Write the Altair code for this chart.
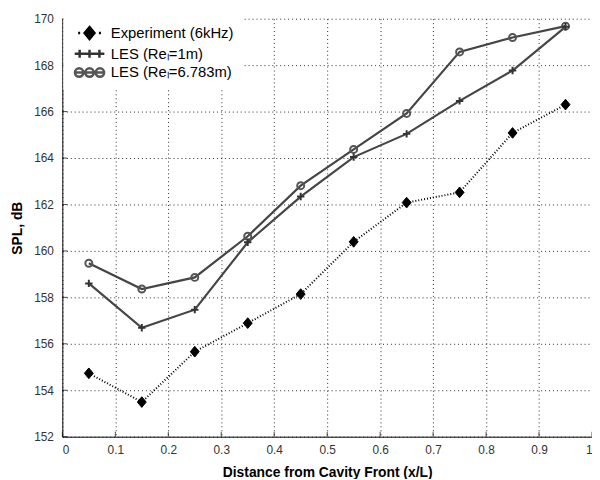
import altair as alt
import pandas as pd

# ---- data ----
x_pos = [0.05, 0.15, 0.25, 0.35, 0.45, 0.55, 0.65, 0.75, 0.85, 0.95]
spl_exp = [154.73, 153.49, 155.66, 156.89, 158.14, 160.39, 162.08, 162.52, 165.08, 166.30]
spl_les1 = [158.60, 156.69, 157.47, 160.37, 162.34, 164.04, 165.04, 166.46, 167.77, 169.65]
spl_les2 = [159.47, 158.36, 158.86, 160.63, 162.81, 164.37, 165.92, 168.57, 169.19, 169.68]
series_names = ["Experiment (6kHz)", "LES (Re\u2097=1m)", "LES (Re\u2097=6.783m)"]
x_ticks = [0, 0.1, 0.2, 0.3, 0.4, 0.5, 0.6, 0.7, 0.8, 0.9, 1]
y_ticks = [152, 154, 156, 158, 160, 162, 164, 166, 168, 170]

rows = []
for name, vals in zip(series_names, [spl_exp, spl_les1, spl_les2]):
    for xv, yv in zip(x_pos, vals):
        rows.append({"x": xv, "spl": yv, "series": name})
df = pd.DataFrame(rows)
xt_df = pd.DataFrame({"t": x_ticks})
yt_df = pd.DataFrame({"t": y_ticks})

FONT = "Liberation Sans"

X = alt.X("x:Q", scale=alt.Scale(domain=[0, 1], nice=False, zero=False),
          axis=alt.Axis(values=x_ticks, format="~g", title="Distance from Cavity Front (x/L)",
                        labelPadding=8, titlePadding=10))
Y = alt.Y("spl:Q", scale=alt.Scale(domain=[152, 170], nice=False, zero=False),
          axis=alt.Axis(values=y_ticks, format="d", title="SPL, dB",
                        labelPadding=9, titlePadding=9))

# marker shapes (unit paths)
DIAMOND = "M0,-1.2L1,0L0,1.2L-1,0Z"
PLUS = "M-1,0L1,0M0,-1L0,1"


def circ(c, r=0.85):
    return f"M{c + r},0A{r},{r} 0 1,1 {c - r},0A{r},{r} 0 1,1 {c + r},0"


LEG_EXP = "M-2.3,0L-1.9,0M1.9,0L2.3,0M0,-1.2L1,0L0,1.2L-1,0Z"
LEG_LES1 = "M-3,0L3,0M-2,-0.8L-2,0.8M0,-0.8L0,0.8M2,-0.8L2,0.8"
LEG_LES2 = circ(-2.1) + circ(0) + circ(2.1) + "M-3,0L3,0"

LINE_GRAY = "#454545"


def sub(name):
    return alt.Chart(df).transform_filter(alt.datum.series == name)


line_les2 = sub(series_names[2]).mark_line(color=LINE_GRAY, strokeWidth=2.2).encode(x=X, y=Y)
line_les1 = sub(series_names[1]).mark_line(color=LINE_GRAY, strokeWidth=2.2).encode(x=X, y=Y)
line_exp = sub(series_names[0]).mark_line(color="black", strokeWidth=2, strokeDash=[1, 2]).encode(x=X, y=Y)

pt_les2 = sub(series_names[2]).mark_point(shape="circle", size=50, filled=False, stroke="#555555",
                                          strokeWidth=2, opacity=1).encode(x=X, y=Y)
pt_les1 = sub(series_names[1]).mark_point(shape=PLUS, size=56, filled=False, stroke="#333333",
                                          strokeWidth=2, opacity=1).encode(x=X, y=Y)
pt_exp = sub(series_names[0]).mark_point(shape=DIAMOND, size=81, filled=True, fill="black",
                                         stroke="black", strokeWidth=1, opacity=1).encode(x=X, y=Y)

# inward ticks (MATLAB style)
xticks = alt.Chart(xt_df).mark_tick(orient="vertical", size=5, thickness=1, color="black").encode(
    x=alt.X("t:Q"), y=alt.datum(152), yOffset=alt.value(-2.5))
yticks = alt.Chart(yt_df).mark_tick(orient="horizontal", size=5, thickness=1, color="black").encode(
    y=alt.Y("t:Q"), x=alt.datum(0), xOffset=alt.value(2.5))

legend_layer = alt.Chart(df).transform_filter("false").mark_point(opacity=1, strokeWidth=2.5).encode(
    x=X, y=Y,
    shape=alt.Shape("series:N", title=None,
                    scale=alt.Scale(domain=series_names, range=[LEG_EXP, LEG_LES1, LEG_LES2]),
                    legend=alt.Legend(orient="none", legendX=1, legendY=-1, padding=8,
                                      fillColor="white", symbolSize=100, symbolStrokeWidth=2.5,
                                      symbolOffset=11, labelOffset=14, labelFont=FONT,
                                      labelFontSize=15, labelColor="black", labelLimit=400,
                                      rowPadding=0, symbolOpacity=1)),
    stroke=alt.Stroke("series:N", title=None,
                      scale=alt.Scale(domain=series_names, range=["black", "#333333", "#555555"])),
    fill=alt.Fill("series:N", title=None,
                  scale=alt.Scale(domain=series_names, range=["black", "transparent", "transparent"])),
)

chart = alt.layer(
    line_les2, line_les1, line_exp, pt_les2, pt_les1, pt_exp, xticks, yticks, legend_layer
).properties(
    width=536, height=423,
    autosize=alt.AutoSizeParams(type="none"),
    padding={"left": 55, "top": 8, "right": 0, "bottom": 40},
    background="white",
).configure_view(stroke=None).configure_axis(
    grid=True, gridColor="black", gridDash=[1, 3], gridOpacity=0.85, gridWidth=1,
    domainColor="black", domainWidth=1, ticks=False, tickSize=0,
    labelFont=FONT, labelFontSize=12, labelColor="#333333",
    titleFont=FONT, titleFontSize=14, titleFontWeight="bold", titleColor="black",
)

chart.save("out.html", embed_options={"renderer": "svg", "actions": False})
